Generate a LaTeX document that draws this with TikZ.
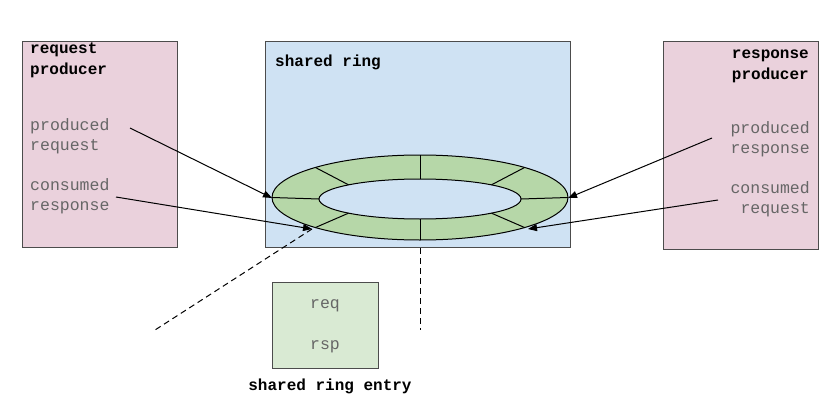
\documentclass[tikz,border=0pt]{standalone}
\usepackage{fontspec}
\setmonofont{Liberation Mono}
\usetikzlibrary{arrows.meta}
\definecolor{pinkf}{HTML}{EAD1DC}
\definecolor{bluef}{HTML}{CFE2F3}
\definecolor{greenf}{HTML}{B6D7A8}
\definecolor{lgreen}{HTML}{D9EAD3}
\definecolor{txt}{HTML}{666666}
\begin{document}
\begin{tikzpicture}[x=1pt,y=-1pt,
  box/.style={draw=black!70,line width=1pt},
  lbl/.style={font=\fontsize{16.5}{20.5}\selectfont\ttfamily,text=txt,inner sep=0pt},
  ttl/.style={font=\fontsize{16}{20.5}\selectfont\ttfamily\bfseries,inner sep=0pt},
  arr/.style={-{Triangle[length=9pt,width=7pt]},line width=1pt},
  dsh/.style={dashed,dash pattern=on 6pt off 4pt,line width=1pt}]
\useasboundingbox (0,0) rectangle (840,412);
\fill[white] (0,0) rectangle (840,412);
\draw[box,fill=pinkf] (22,42) rectangle (177,247);
\draw[box,fill=bluef] (265,42) rectangle (570,247);
\draw[box,fill=pinkf] (663,42) rectangle (818,249);
\draw[box,fill=lgreen] (272,282) rectangle (378,368);
% ring
\draw[line width=1pt,fill=greenf,even odd rule] (420,197.5) ellipse [x radius=148,y radius=42.5] (420,199) ellipse [x radius=101,y radius=20];
\foreach \a in {0,45,90,135,180,225,270,315}{
  \draw[line width=1pt] ({420+101*cos(\a)},{199-20*sin(\a)}) -- ({420+148*cos(\a)},{197.5-42.5*sin(\a)});
}
\coordinate (rl) at (272,198);
\coordinate (rr) at (568,198);
\coordinate (rbl) at (312,229);
\coordinate (rbr) at (528,229);
% texts
\node[ttl,anchor=north west,align=left] (rp) at (30,43) {request\\producer};
\node[ttl,anchor=north west] (sr) at (275,55) {shared ring};
\node[ttl,anchor=north east,align=right] (sp) at (809,50) {response\\producer};
\node[lbl,anchor=north west,align=left] (prq) at (30,118) {produced\\request};
\node[lbl,anchor=north west,align=left] (crs) at (30,178) {consumed\\response};
\node[lbl,anchor=north east,align=right] (prs) at (810,121) {produced\\response};
\node[lbl,anchor=north east,align=right] (crq) at (810,181) {consumed\\request};
\node[lbl] (req) at (325,306) {req};
\node[lbl] (rsp) at (325,347) {rsp};
\node[ttl] (sre) at (330,386) {shared ring entry};
% arrows
\draw[arr] (130,128) -- (rl);
\draw[arr] (116,197) -- (rbl);
\draw[arr] (712,138) -- (rr);
\draw[arr] (718,200) -- (rbr);
\coordinate (d1) at (155,330);
\coordinate (d2) at (420,330);
\draw[dsh] (rbl) -- (d1);
\draw[dsh] (420,248) -- (d2);
\end{tikzpicture}
\end{document}
